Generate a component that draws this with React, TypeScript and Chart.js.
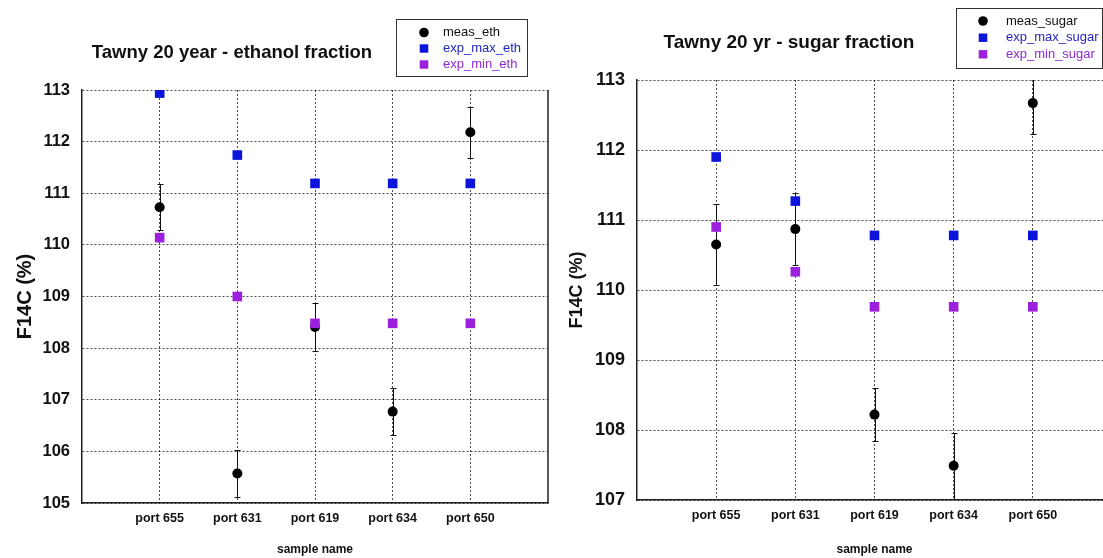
import React, { useEffect, useRef } from 'react';
import { Chart, registerables } from 'chart.js';

Chart.register(...registerables);

// ---------- data ----------
const categories = ['port 655', 'port 631', 'port 619', 'port 634', 'port 650'];

const measEth = [110.73, 105.57, 108.41, 106.77, 112.18];
const measEthErr = [0.44, 0.45, 0.46, 0.45, 0.5];
const expMaxEth = [112.94, 111.74, 111.19, 111.19, 111.19];
const expMinEth = [110.14, 109.0, 108.48, 108.48, 108.48];

const measSugar = [110.65, 110.87, 108.22, 107.49, 112.67];
const measSugarErr = [0.58, 0.52, 0.38, 0.47, 0.44];
const expMaxSugar = [111.9, 111.27, 110.78, 110.78, 110.78];
const expMinSugar = [110.9, 110.26, 109.76, 109.76, 109.76];

const ethTicks = [105, 106, 107, 108, 109, 110, 111, 112, 113];
const sugarTicks = [107, 108, 109, 110, 111, 112, 113];

// ---------- styles ----------
const FONT = '"Liberation Sans", Arial, Helvetica, sans-serif';
const BLACK = '#000000';
const BLUE = '#0c14dc';
const PURPLE = '#9b1fdd';
const LEG_TEXT = ['#111111', '#2424c0', '#8e2ad6'];

const toPoints = (vals: number[]) => vals.map((v, i) => ({ x: i + 1, y: v }));

function makeErrorPlugin(errors: number[]) {
  return {
    id: 'errorBars',
    beforeDatasetsDraw(chart: any) {
      const { ctx, chartArea, scales } = chart;
      const data = chart.data.datasets[0].data as { x: number; y: number }[];
      ctx.save();
      ctx.beginPath();
      ctx.rect(chartArea.left, chartArea.top, chartArea.right - chartArea.left, chartArea.bottom - chartArea.top);
      ctx.clip();
      ctx.strokeStyle = '#111';
      ctx.lineWidth = 1;
      ctx.beginPath();
      data.forEach((p, i) => {
        const x = Math.round(scales.x.getPixelForValue(p.x)) + 0.5;
        const yt = Math.round(scales.y.getPixelForValue(p.y + errors[i])) + 0.5;
        const yb = Math.round(scales.y.getPixelForValue(p.y - errors[i])) + 0.5;
        ctx.moveTo(x, yt);
        ctx.lineTo(x, yb);
        ctx.moveTo(x - 3, yt);
        ctx.lineTo(x + 3, yt);
        ctx.moveTo(x - 3, yb);
        ctx.lineTo(x + 3, yb);
      });
      ctx.stroke();
      ctx.restore();
    },
  };
}

interface HeaderCfg {
  title: string;
  titleX: number;
  titleY: number;
  titleSize: number;
  box: [number, number, number, number];
  markerX: number;
  textX: number;
  rows: number[];
  legendSize: number;
}

function makeHeaderPlugin(cfg: HeaderCfg) {
  return {
    id: 'header',
    afterDraw(chart: any) {
      const { ctx, chartArea } = chart;
      ctx.save();
      // right border of plot
      ctx.strokeStyle = '#222';
      ctx.lineWidth = 1.5;
      ctx.beginPath();
      ctx.moveTo(chartArea.right, chartArea.top);
      ctx.lineTo(chartArea.right, chartArea.bottom);
      ctx.stroke();
      // title
      ctx.fillStyle = '#111';
      ctx.font = `bold ${cfg.titleSize}px ${FONT}`;
      ctx.textAlign = 'center';
      ctx.textBaseline = 'middle';
      ctx.fillText(cfg.title, cfg.titleX, cfg.titleY);
      // legend box
      const [bx, by, bw, bh] = cfg.box;
      ctx.fillStyle = '#ffffff';
      ctx.fillRect(bx, by, bw, bh);
      ctx.strokeStyle = '#333';
      ctx.lineWidth = 1;
      ctx.strokeRect(bx + 0.5, by + 0.5, bw, bh);
      ctx.textAlign = 'left';
      ctx.font = `${cfg.legendSize}px ${FONT}`;
      chart.data.datasets.forEach((ds: any, i: number) => {
        const y = cfg.rows[i];
        ctx.fillStyle = ds.backgroundColor;
        if (ds.pointStyle === 'circle') {
          ctx.beginPath();
          ctx.arc(cfg.markerX, y, 4.8, 0, Math.PI * 2);
          ctx.fill();
        } else {
          ctx.fillRect(cfg.markerX - 4.3, y - 4.2, 8.6, 8.4);
        }
        ctx.fillStyle = LEG_TEXT[i];
        ctx.fillText(ds.label, cfg.textX, y);
      });
      ctx.restore();
    },
  };
}

interface ChartCfg {
  labels: [string, string, string];
  meas: number[];
  err: number[];
  max: number[];
  min: number[];
  yTicks: number[];
  yWidth: number;
  top: number;
  xHeight: number;
  yTickSize: number;
  yTitleSize: number;
  yTitlePad: number;
  header: HeaderCfg;
}

function buildChart(canvas: HTMLCanvasElement, c: ChartCfg) {
  const gridColor = 'rgba(0,0,0,0.7)';
  return new Chart(canvas, {
    type: 'scatter',
    data: {
      datasets: [
        {
          label: c.labels[0],
          data: toPoints(c.meas),
          pointStyle: 'circle',
          pointRadius: 5,
          backgroundColor: BLACK,
          borderColor: BLACK,
          borderWidth: 0,
          order: 3,
        },
        {
          label: c.labels[1],
          data: toPoints(c.max),
          pointStyle: 'rect',
          pointRadius: 6.8,
          backgroundColor: BLUE,
          borderColor: BLUE,
          borderWidth: 0,
          order: 2,
        },
        {
          label: c.labels[2],
          data: toPoints(c.min),
          pointStyle: 'rect',
          pointRadius: 6.8,
          backgroundColor: PURPLE,
          borderColor: PURPLE,
          borderWidth: 0,
          order: 1,
        },
      ] as any,
    },
    options: {
      animation: false,
      responsive: false,
      events: [],
      layout: { padding: { top: c.top, right: 0, left: 0, bottom: 0 } },
      plugins: {
        legend: { display: false },
        tooltip: { enabled: false },
        title: { display: false },
      },
      scales: {
        x: {
          type: 'linear',
          min: 0,
          max: categories.length + 1,
          afterFit: (s: any) => {
            s.height = c.xHeight;
          },
          afterBuildTicks: (s: any) => {
            s.ticks = [0, ...categories.map((_, i) => i + 1), categories.length + 1].map((v) => ({ value: v }));
          },
          ticks: {
            autoSkip: false,
            maxRotation: 0,
            padding: 8,
            color: '#111',
            font: { family: FONT, size: 12.5, weight: 'bold' },
            callback: (v: any) => categories[Number(v) - 1] ?? '',
          },
          grid: {
            drawTicks: false,
            lineWidth: 1,
            color: (ctx: any) =>
              ctx.tick && (ctx.tick.value === 0 || ctx.tick.value === categories.length + 1)
                ? 'rgba(0,0,0,0)'
                : gridColor,
          },
          border: { display: true, color: '#222', width: 1.5, dash: [2, 2] },
          title: {
            display: true,
            text: 'sample name',
            color: '#111',
            font: { family: FONT, size: 12, weight: 'bold' },
            padding: { top: 0, bottom: 1.5 },
          },
        },
        y: {
          type: 'linear',
          min: c.yTicks[0],
          max: c.yTicks[c.yTicks.length - 1],
          afterFit: (s: any) => {
            s.width = c.yWidth;
          },
          afterBuildTicks: (s: any) => {
            s.ticks = c.yTicks.map((v) => ({ value: v }));
          },
          ticks: {
            padding: 12,
            color: '#111',
            font: { family: FONT, size: c.yTickSize, weight: 'bold' },
            callback: (v: any) => String(v),
          },
          grid: {
            drawTicks: false,
            lineWidth: 1,
            color: gridColor,
          },
          border: { display: true, color: '#222', width: 1.5, dash: [2, 2] },
          title: {
            display: true,
            text: 'F14C (%)',
            color: '#111',
            font: { family: FONT, size: c.yTitleSize, weight: 'bold' },
            padding: { top: c.yTitlePad, bottom: 0 },
          },
        },
      },
    } as any,
    plugins: [makeErrorPlugin(c.err), makeHeaderPlugin(c.header)],
  });
}

export default function App() {
  const leftRef = useRef<HTMLCanvasElement>(null);
  const rightRef = useRef<HTMLCanvasElement>(null);

  useEffect(() => {
    const left = buildChart(leftRef.current!, {
      labels: ['meas_eth', 'exp_max_eth', 'exp_min_eth'],
      meas: measEth,
      err: measEthErr,
      max: expMaxEth,
      min: expMinEth,
      yTicks: ethTicks,
      yWidth: 82,
      top: 90,
      xHeight: 55,
      yTickSize: 16.5,
      yTitleSize: 20,
      yTitlePad: 13,
      header: {
        title: 'Tawny 20 year - ethanol fraction',
        titleX: 232,
        titleY: 53,
        titleSize: 18.5,
        box: [396, 19, 131, 57],
        markerX: 424,
        textX: 443,
        rows: [32.5, 48.5, 64.5],
        legendSize: 13,
      },
    });
    const right = buildChart(rightRef.current!, {
      labels: ['meas_sugar', 'exp_max_sugar', 'exp_min_sugar'],
      meas: measSugar,
      err: measSugarErr,
      max: expMaxSugar,
      min: expMinSugar,
      yTicks: sugarTicks,
      yWidth: 86,
      top: 80,
      xHeight: 58,
      yTickSize: 18,
      yTitleSize: 18,
      yTitlePad: 15,
      header: {
        title: 'Tawny 20 yr - sugar fraction',
        titleX: 238,
        titleY: 43,
        titleSize: 19,
        box: [405, 8, 146, 60],
        markerX: 432,
        textX: 455,
        rows: [21, 37.7, 54.3],
        legendSize: 13,
      },
    });
    return () => {
      left.destroy();
      right.destroy();
    };
  }, []);

  return (
    <div
      style={{
        position: 'fixed',
        left: 0,
        top: 0,
        width: 1103,
        height: 558,
        overflow: 'hidden',
        background: '#ffffff',
      }}
    >
      <canvas
        ref={leftRef}
        width={556}
        height={558}
        style={{ position: 'absolute', left: 0, top: 0, width: 556, height: 558 }}
      />
      <canvas
        ref={rightRef}
        width={569}
        height={558}
        style={{ position: 'absolute', left: 551, top: 0, width: 569, height: 558 }}
      />
    </div>
  );
}
